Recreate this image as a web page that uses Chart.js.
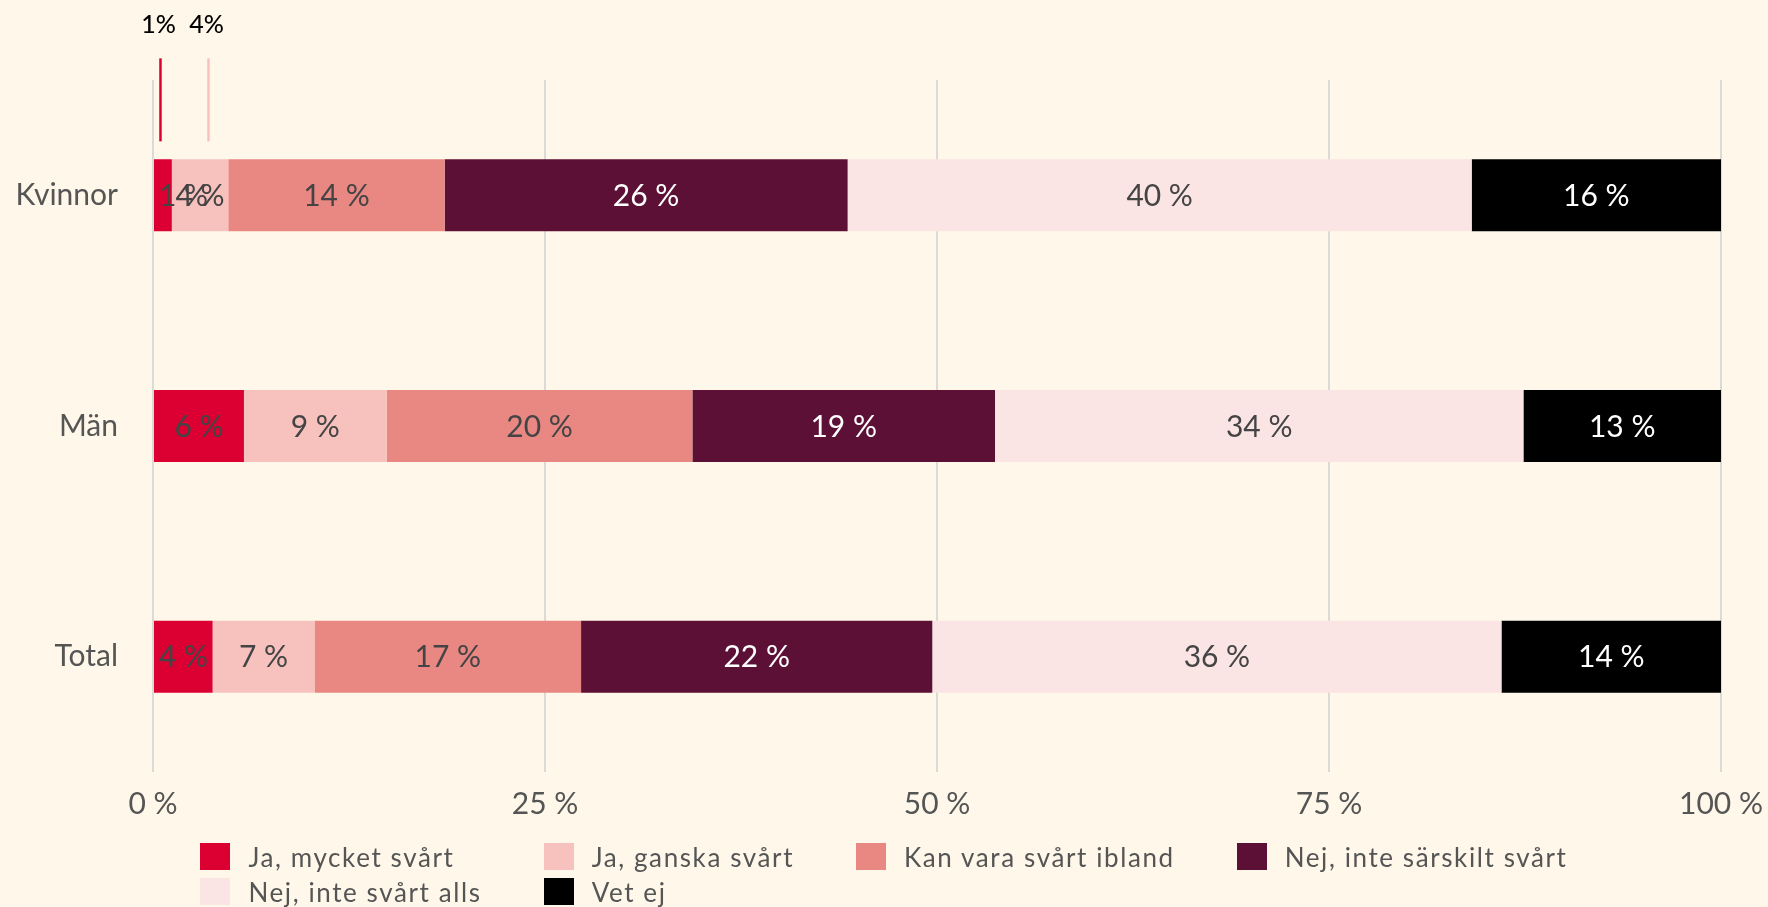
<!DOCTYPE html>
<html lang="sv">
<head>
<meta charset="utf-8">
<title>Stapeldiagram</title>
<script src="https://cdn.jsdelivr.net/npm/chart.js@4.4.1/dist/chart.umd.min.js"></script>
<style>
  html, body { margin: 0; padding: 0; background: #FFF8EA; }
  #wrap { position: relative; width: 1768px; height: 907px; overflow: hidden; }
  #chart { display: block; }
  #legend {
    position: absolute; left: 0; right: 0; top: 843px;
    display: grid; grid-template-columns: repeat(4, auto);
    justify-content: center; column-gap: 62px; row-gap: 8px;
    font-family: Lato, "Open Sans", sans-serif; font-size: 26px; letter-spacing: 1.6px; color: #555;
  }
  .item { display: flex; align-items: center; height: 27px; white-space: nowrap; }
  .box { width: 30px; height: 27px; margin-right: 18px; flex: none; }
</style>
</head>
<body>
<div id="wrap">
  <canvas id="chart" width="1768" height="907"></canvas>
  <div id="legend"></div>
</div>
<script>
// ---- data ----
const categories = ['Kvinnor', 'Män', 'Total'];
const seriesNames = [
  'Ja, mycket svårt',
  'Ja, ganska svårt',
  'Kan vara svårt ibland',
  'Nej, inte särskilt svårt',
  'Nej, inte svårt alls',
  'Vet ej'
];
const jaMycket        = [1.2, 5.8, 3.8];
const jaGanska        = [3.6, 9.1, 6.5];
const kanVara         = [13.8, 19.5, 17.0];
const nejInteSarskilt = [25.7, 19.3, 22.4];
const nejInteAlls     = [39.8, 33.7, 36.3];
const vetEj           = [15.9, 12.6, 14.0];
const tickValues      = [0, 25, 50, 75, 100];

// ---- styles ----
const seriesColors = ['#DC0032', '#F7C2BE', '#E98783', '#5C1035', '#FBE5E4', '#000000'];
const labelColors  = ['#444444', '#444444', '#444444', '#FFFFFF', '#444444', '#FFFFFF'];
const FONT = 'Lato, "Open Sans", sans-serif';

const seriesValues = [jaMycket, jaGanska, kanVara, nejInteSarskilt, nejInteAlls, vetEj];

const datasets = seriesNames.map((name, i) => ({
  label: name,
  data: seriesValues[i],
  backgroundColor: seriesColors[i],
  borderWidth: 0,
  barPercentage: 0.312,
  categoryPercentage: 1
}));

// labels inside segments
const segLabels = {
  id: 'segLabels',
  afterDatasetsDraw(chart) {
    const ctx = chart.ctx, area = chart.chartArea;
    ctx.save();
    ctx.font = '30px ' + FONT;
    ctx.textAlign = 'center';
    ctx.textBaseline = 'middle';
    chart.data.datasets.forEach((ds, i) => {
      const meta = chart.getDatasetMeta(i);
      meta.data.forEach((bar, j) => {
        const txt = Math.round(ds.data[j]) + ' %';
        const w = ctx.measureText(txt).width;
        let x = (bar.x + bar.base) / 2;
        x = Math.max(x, area.left + 6 + w / 2);
        ctx.fillStyle = labelColors[i];
        ctx.fillText(txt, x, bar.y + 1);
      });
    });
    ctx.restore();
  }
};

// callouts above the top bar for small segments
const callouts = {
  id: 'callouts',
  afterDatasetsDraw(chart) {
    const ctx = chart.ctx;
    const threshold = 4, minGap = 48;
    const pts = [];
    chart.data.datasets.forEach((ds, i) => {
      const bar = chart.getDatasetMeta(i).data[0];
      if (ds.data[0] < threshold) {
        pts.push({ x: (bar.x + bar.base) / 2, top: bar.y - bar.height / 2,
                   color: seriesColors[i], txt: Math.round(ds.data[0]) + '%' });
      }
    });
    pts.sort((a, b) => a.x - b.x);
    for (let it = 0; it < 30; it++) {
      let moved = false;
      for (let k = 1; k < pts.length; k++) {
        const d = pts[k].x - pts[k - 1].x;
        if (d < minGap) { const s = (minGap - d) / 2; pts[k - 1].x -= s; pts[k].x += s; moved = true; }
      }
      if (!moved) break;
    }
    ctx.save();
    pts.forEach(p => {
      ctx.strokeStyle = p.color;
      ctx.lineWidth = 2.5;
      ctx.beginPath();
      ctx.moveTo(p.x + 3, p.top - 101);
      ctx.lineTo(p.x + 3, p.top - 18);
      ctx.stroke();
      ctx.fillStyle = '#000';
      ctx.font = '500 25px ' + FONT;
      ctx.textAlign = 'center';
      ctx.textBaseline = 'middle';
      ctx.fillText(p.txt, p.x + 1, p.top - 134);
    });
    ctx.restore();
  }
};

function build() {
  new Chart(document.getElementById('chart'), {
    type: 'bar',
    data: { labels: categories, datasets },
    options: {
      indexAxis: 'y',
      responsive: false,
      animation: false,
      devicePixelRatio: 1,
      layout: { padding: { top: 80, right: 47, bottom: 0, left: 0 } },
      plugins: { legend: { display: false }, tooltip: { enabled: false } },
      scales: {
        x: {
          stacked: true, min: 0, max: 100,
          afterBuildTicks: s => { s.ticks = tickValues.map(v => ({ value: v })); },
          afterFit: s => { s.height = 135; s.paddingLeft = 0; s.paddingRight = 0; },
          ticks: { callback: v => v + ' %', color: '#555', font: { family: FONT, size: 30 }, padding: 14, maxRotation: 0 },
          grid: { color: '#DCDAD6', lineWidth: 2, drawTicks: false },
          border: { display: false }
        },
        y: {
          stacked: true,
          afterFit: s => { s.width = 153; s.paddingTop = 0; s.paddingBottom = 0; },
          ticks: { color: '#555', font: { family: FONT, size: 30 }, padding: 35 },
          grid: { display: false, drawTicks: false },
          border: { display: false }
        }
      }
    },
    plugins: [segLabels, callouts]
  });

  const legend = document.getElementById('legend');
  seriesNames.forEach((name, i) => {
    const item = document.createElement('div');
    item.className = 'item';
    const box = document.createElement('span');
    box.className = 'box';
    box.style.background = seriesColors[i];
    const t = document.createElement('span');
    t.textContent = name;
    item.appendChild(box); item.appendChild(t);
    legend.appendChild(item);
  });
}

if (document.fonts && document.fonts.load) {
  Promise.all([document.fonts.load('30px Lato'), document.fonts.load('500 25px Lato')])
    .then(build, build);
} else { build(); }
</script>
</body>
</html>
